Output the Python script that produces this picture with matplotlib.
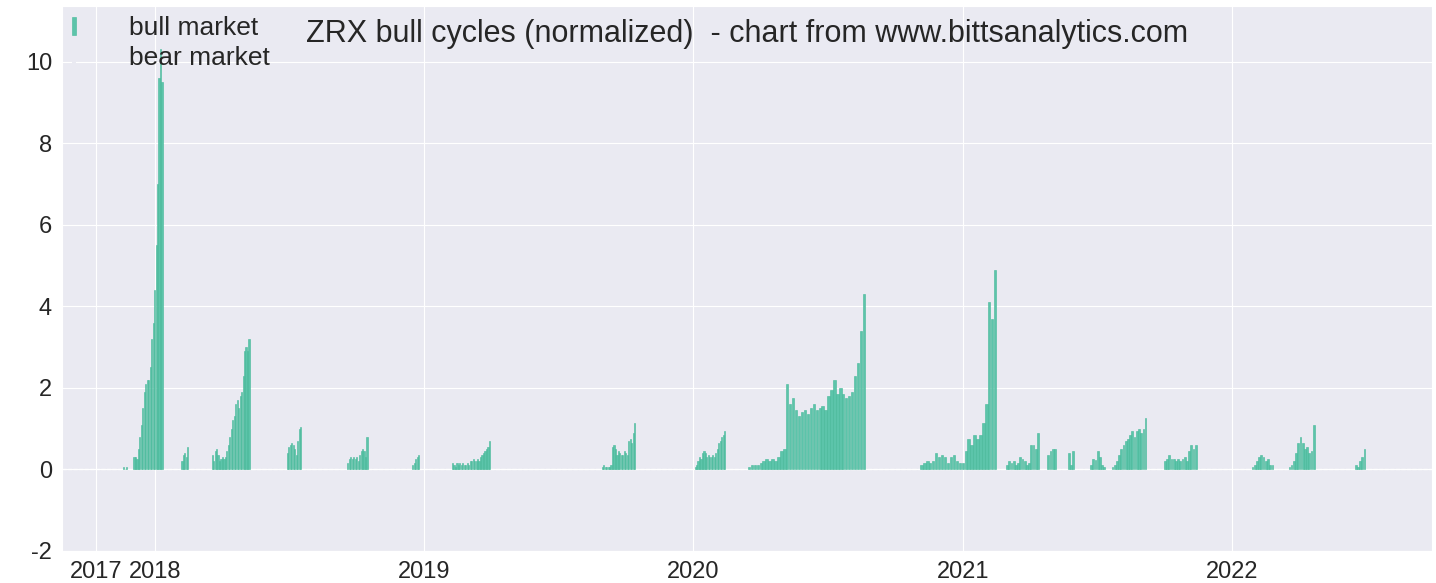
import matplotlib
matplotlib.use("Agg")
import matplotlib.pyplot as plt
import seaborn as sns
import pandas as pd

# bull cycles: (start date, step in days, normalized values)
bull_cycles = [
    ("2017-11-20", 2, [0.05, 0.0, 0.05]),
    ("2017-12-04", 2, [0.3, 0.3, 0.25, 0.5, 0.8, 1.1, 1.5, 1.9, 2.1, 2.2, 2.2, 2.5, 3.2, 3.6, 4.4, 5.5, 7.0, 9.6, 10.3, 9.5]),
    ("2018-02-07", 2, [0.2, 0.35, 0.4, 0.3, 0.55]),
    ("2018-03-20", 2, [0.35, 0.2, 0.45, 0.5, 0.35, 0.2, 0.25, 0.3, 0.25, 0.3, 0.45, 0.6, 0.8, 1.0, 1.2, 1.3, 1.6, 1.7, 1.5, 1.8, 1.9, 2.3, 2.9, 3.0, 2.9, 3.2]),
    ("2018-06-30", 2, [0.4, 0.55, 0.6, 0.65, 0.6, 0.5, 0.35, 0.7, 1.0, 1.05]),
    ("2018-09-20", 2, [0.15, 0.25, 0.3, 0.25, 0.3, 0.25, 0.3, 0.2, 0.35, 0.45, 0.5, 0.45, 0.3, 0.8]),
    ("2018-12-17", 2, [0.1, 0.15, 0.25, 0.3, 0.35]),
    ("2019-02-09", 2, [0.15, 0.1, 0.05, 0.15, 0.1, 0.15, 0.1, 0.15, 0.12, 0.1, 0.15, 0.1, 0.2, 0.2, 0.25, 0.2, 0.2, 0.25, 0.2, 0.3, 0.35, 0.4, 0.45, 0.5, 0.55, 0.7]),
    ("2019-08-31", 2, [0.05, 0.1, 0.05, 0.05, 0.05, 0.05, 0.1, 0.55, 0.6, 0.5, 0.35, 0.45, 0.4, 0.35, 0.35, 0.45, 0.4, 0.35, 0.7, 0.75, 0.65, 0.9, 1.15]),
    ("2020-01-04", 2, [0.05, 0.1, 0.2, 0.3, 0.25, 0.4, 0.45, 0.4, 0.3, 0.35, 0.3, 0.3, 0.35, 0.3, 0.4, 0.5, 0.65, 0.7, 0.8, 0.85, 0.95]),
    ("2020-03-17", 4, [0.05, 0.1, 0.1, 0.1, 0.15, 0.2, 0.25, 0.2, 0.25, 0.2, 0.3, 0.45, 0.5, 2.1, 1.6, 1.75, 1.45, 1.3, 1.4, 1.45,
                       1.35, 1.5, 1.6, 1.45, 1.5, 1.55, 1.45, 1.8, 1.95, 2.2, 1.85, 2.0, 1.85, 1.75, 1.8, 1.9, 2.3, 2.6, 3.4, 4.3]),
    ("2020-11-06", 4, [0.1, 0.15, 0.2, 0.15, 0.2, 0.4, 0.3, 0.35, 0.3, 0.15, 0.3, 0.35, 0.2, 0.15, 0.15, 0.45, 0.75, 0.6, 0.85, 0.75,
                       0.85, 1.15, 1.6, 4.1, 3.7, 4.9]),
    ("2021-03-02", 3, [0.1, 0.2, 0.15, 0.2, 0.1, 0.15, 0.3, 0.25, 0.2, 0.1, 0.15, 0.6, 0.6, 0.5, 0.9]),
    ("2021-04-27", 3, [0.35, 0.45, 0.5, 0.5]),
    ("2021-05-25", 3, [0.4, 0.1, 0.45]),
    ("2021-06-24", 3, [0.12, 0.25, 0.22, 0.45, 0.3, 0.12, 0.05]),
    ("2021-07-23", 3, [0.05, 0.1, 0.2, 0.35, 0.5, 0.6, 0.7, 0.75, 0.85, 0.95, 0.8, 0.95, 1.0, 0.9, 1.0, 1.25]),
    ("2021-10-02", 3, [0.2, 0.25, 0.35, 0.25, 0.25, 0.2, 0.25, 0.2, 0.25, 0.3, 0.2, 0.45, 0.6, 0.5, 0.6]),
    ("2022-01-29", 3, [0.05, 0.1, 0.2, 0.3, 0.35, 0.3, 0.2, 0.25, 0.1, 0.1]),
    ("2022-03-20", 3, [0.05, 0.1, 0.2, 0.4, 0.65, 0.8, 0.65, 0.5, 0.55, 0.4, 0.45, 1.1]),
    ("2022-06-18", 3, [0.1, 0.05, 0.2, 0.3, 0.5]),
]

tick_dates = ["2017-10-14", "2018-01-01", "2019-01-01", "2020-01-01", "2021-01-01", "2022-01-01"]
tick_labels = ["2017", "2018", "2019", "2020", "2021", "2022"]

sns.set_style("darkgrid")
plt.rcParams['font.family'] = ['Arial', 'Liberation Sans', 'DejaVu Sans']
plt.rcParams['axes.unicode_minus'] = False

fig, ax = plt.subplots(figsize=(14.36, 5.83), dpi=100)

first = True
for start, step, vals in bull_cycles:
    dates = pd.date_range(start, periods=len(vals), freq=f"{step}D")
    ax.bar(dates, vals, width=step * 0.8, color="#5cc4aa", edgecolor="#45b898",
           linewidth=0.4, label="bull market" if first else None)
    first = False

# bear market is drawn in a colour close to the background
ax.bar([pd.Timestamp("2020-01-01")], [0], width=1, color="#eaeaf2", edgecolor="#eaeaf2",
       linewidth=0, label="bear market")

ax.set_xlim(pd.Timestamp("2017-08-28"), pd.Timestamp("2022-09-29"))
ax.set_ylim(-2, 11.37)
ax.set_xticks([pd.Timestamp(d) for d in tick_dates])
ax.set_xticklabels(tick_labels)
ax.tick_params(labelsize=17)
ax.axhline(0, color="white", lw=1, ls=(0, (3, 1)), zorder=0.5)

ax.legend(loc="upper left", fontsize=19, frameon=False,
          handlelength=0.15, handleheight=0.7, handletextpad=2.0, borderaxespad=0.0,
          labelspacing=0.2)
ax.text(0.5, 0.975, "ZRX bull cycles (normalized)  - chart from www.bittsanalytics.com",
        transform=ax.transAxes, ha="center", va="top", fontsize=22, color="#262626")

plt.subplots_adjust(left=0.043, right=0.997, top=0.99, bottom=0.055)
plt.savefig("out.png", dpi=100)
